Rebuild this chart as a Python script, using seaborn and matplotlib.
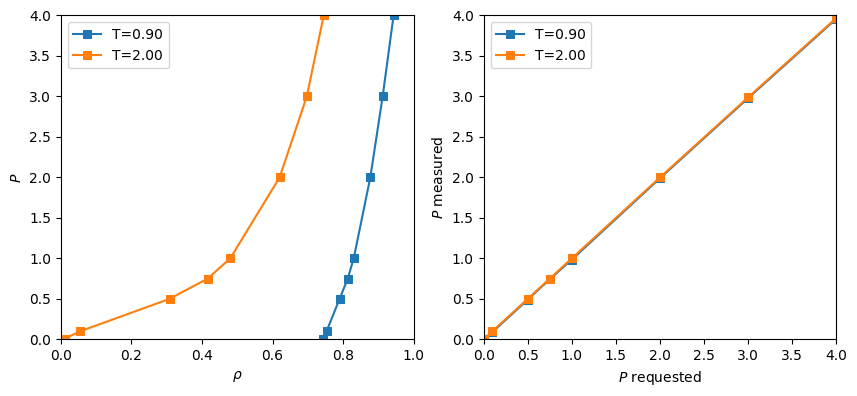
import numpy as np
import pandas as pd
import matplotlib
matplotlib.use("Agg")
import matplotlib.pyplot as plt
import seaborn as sns

# data
p_requested = [0.01, 0.1, 0.5, 0.75, 1.0, 2.0, 3.0, 4.0]
rho_T090 = [0.744, 0.753, 0.790, 0.813, 0.830, 0.877, 0.912, 0.943]
rho_T200 = [0.011, 0.055, 0.308, 0.416, 0.480, 0.620, 0.697, 0.745]
p_meas_T090 = [0.006, 0.09, 0.49, 0.742, 0.985, 1.99, 2.98, 3.96]
p_meas_T200 = [0.01, 0.10, 0.50, 0.75, 1.00, 2.00, 2.99, 3.97]
labels = ["T=0.90", "T=2.00"]
colors = ["#1f77b4", "#ff7f0e"]

fig, (ax1, ax2) = plt.subplots(1, 2, figsize=(8.57, 3.96), dpi=100)
fig.subplots_adjust(left=0.071, right=0.976, top=0.961, bottom=0.143, wspace=0.198)

# left: equation of state
for rho, lab, col in zip([rho_T090, rho_T200], labels, colors):
    sns.lineplot(x=rho, y=p_requested, ax=ax1, label=lab, color=col,
                 marker="s", markersize=6, markeredgecolor=col, sort=False)
ax1.set_xlim(0, 1)
ax1.set_ylim(0, 4)
ax1.set_xlabel(r"$\rho$")
ax1.set_ylabel(r"$P$")
ax1.legend(loc="upper left")

# right: measured vs requested pressure
for pm, lab, col in zip([p_meas_T090, p_meas_T200], labels, colors):
    sns.lineplot(x=p_requested, y=pm, ax=ax2, label=lab, color=col,
                 marker="s", markersize=6, markeredgecolor=col, sort=False)
ax2.set_xlim(0, 4)
ax2.set_ylim(0, 4)
ax2.set_xlabel(r"$P$ requested")
ax2.set_ylabel(r"$P$ measured")
ax2.legend(loc="upper left")

fig.savefig("out.png", dpi=100)
